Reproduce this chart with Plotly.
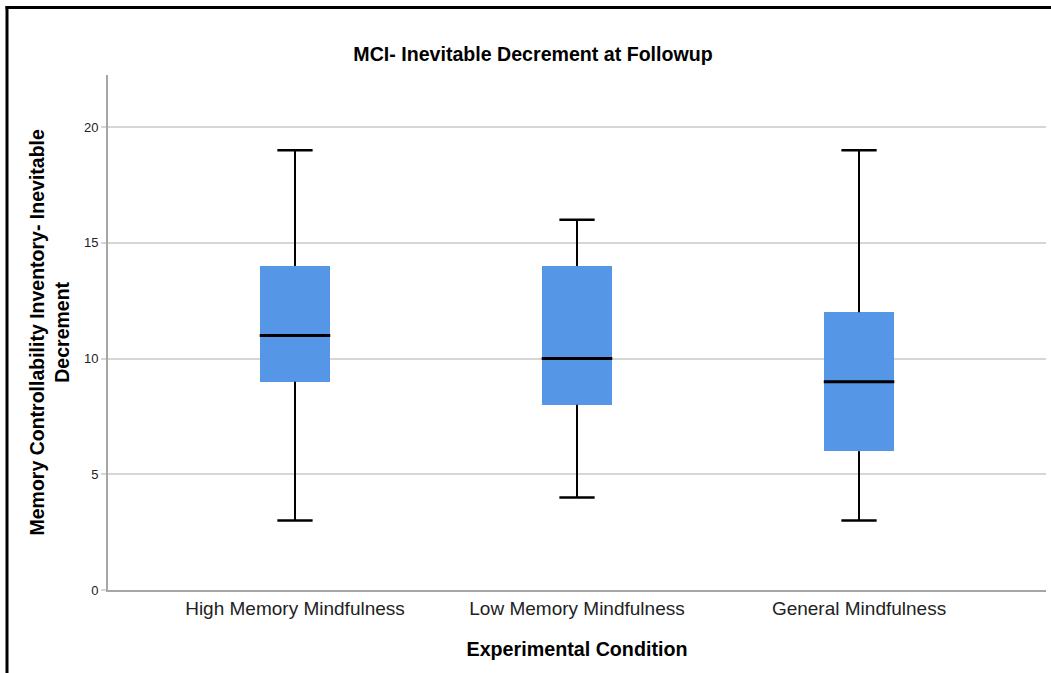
import plotly.graph_objects as go

categories = ["High Memory Mindfulness", "Low Memory Mindfulness", "General Mindfulness"]
minimum = [3, 4, 3]
q1 = [9, 8, 6]
median = [11, 10, 9]
q3 = [14, 14, 12]
maximum = [19, 16, 19]

y_ticks = [0, 5, 10, 15, 20]

BOX_W = 0.25
CAP_W = 0.125
FILL = "#5596E6"

W, H = 1051, 673
L, R, T, B = 108, 5, 75, 83
pw, ph = W - L - R, H - T - B

fig = go.Figure()

xs = list(range(len(categories)))

# boxes (bars from q1 to q3)
fig.add_trace(go.Bar(
    x=xs, y=[b - a for a, b in zip(q1, q3)], base=q1, width=BOX_W,
    marker=dict(color=FILL, line=dict(width=0)), hoverinfo="skip", showlegend=False))

# whiskers
wx, wy = [], []
for i in xs:
    wx += [i, i, None, i, i, None]
    wy += [q3[i], maximum[i], None, minimum[i], q1[i], None]
fig.add_trace(go.Scatter(x=wx, y=wy, mode="lines", line=dict(color="black", width=2),
                         hoverinfo="skip", showlegend=False))

# caps
cx, cy = [], []
for i in xs:
    cx += [i - CAP_W / 2, i + CAP_W / 2, None, i - CAP_W / 2, i + CAP_W / 2, None]
    cy += [maximum[i], maximum[i], None, minimum[i], minimum[i], None]
fig.add_trace(go.Scatter(x=cx, y=cy, mode="lines", line=dict(color="black", width=2.5),
                         hoverinfo="skip", showlegend=False))

# medians
mx, my = [], []
for i in xs:
    mx += [i - BOX_W / 2, i + BOX_W / 2, None]
    my += [median[i], median[i], None]
fig.add_trace(go.Scatter(x=mx, y=my, mode="lines", line=dict(color="black", width=3),
                         hoverinfo="skip", showlegend=False))

def px_x(p):
    return (p - L) / pw

def px_y(p):
    return (H - B - p) / ph

fig.update_layout(
    width=W, height=H,
    margin=dict(l=L, r=R, t=T, b=B),
    paper_bgcolor="white", plot_bgcolor="white",
    font=dict(family="Liberation Sans, Arial, sans-serif", color="#000000"),
    title=dict(text="<b>MCI- Inevitable Decrement at Followup</b>",
               x=533 / W, xref="container", xanchor="center",
               y=1 - 54 / H, yref="container", yanchor="middle",
               font=dict(size=19.6, color="#000000")),
    xaxis=dict(
        range=[-0.663, 2.663], tickmode="array", tickvals=xs, ticktext=categories,
        showgrid=False, zeroline=False, showline=True, linecolor="#a6a6a6", linewidth=2,
        ticks="", tickfont=dict(size=19, color="#222222"),
        title=dict(text="<b>Experimental Condition</b>", font=dict(size=19.7), standoff=24),
    ),
    yaxis=dict(
        range=[0, 22.25], tickmode="array", tickvals=y_ticks,
        showgrid=True, gridcolor="#d6d6d6", gridwidth=2, zeroline=False,
        showline=True, linecolor="#a6a6a6", linewidth=2,
        ticks="outside", ticklen=5, tickcolor="#d6d6d6", tickwidth=2,
        tickfont=dict(size=13, color="#222222"),
    ),
    bargap=0,
    annotations=[dict(
        text="<b>Memory Controllability Inventory- Inevitable<br>Decrement</b>",
        textangle=-90, xref="paper", yref="paper", x=px_x(49), y=0.5,
        xanchor="center", yanchor="middle", showarrow=False,
        font=dict(size=19.5, color="#000000"))],
    shapes=[
        dict(type="line", xref="paper", yref="paper", x0=px_x(5.5), x1=px_x(W + 5), y0=px_y(7.5), y1=px_y(7.5),
             line=dict(color="black", width=3)),
        dict(type="line", xref="paper", yref="paper", x0=px_x(7), x1=px_x(7), y0=px_y(6), y1=px_y(H + 5),
             line=dict(color="black", width=3)),
    ],
)

fig.write_html("out.html")
